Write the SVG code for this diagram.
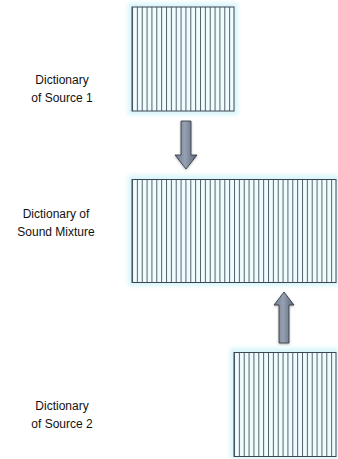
<svg xmlns="http://www.w3.org/2000/svg" width="338" height="459" viewBox="0 0 338 459">
<defs>
<style>
.lbl{font-family:"Liberation Sans",Arial,Helvetica,sans-serif;font-size:12px;fill:#111;text-anchor:middle}
.glow{fill:#d8f5fb}
.ln{stroke:#56616b;stroke-width:1}
.arr{fill:url(#ag);stroke:#2f333a;stroke-width:0.8}
</style>
<linearGradient id="ag" x1="0" y1="0" x2="1" y2="0">
<stop offset="0" stop-color="#6f7a8c"/>
<stop offset="0.45" stop-color="#95a0b2"/>
<stop offset="1" stop-color="#5a6475"/>
</linearGradient>
<filter id="blur" x="-20%" y="-20%" width="140%" height="140%"><feGaussianBlur stdDeviation="2"/></filter>
<filter id="shadow" x="-50%" y="-50%" width="200%" height="200%"><feDropShadow dx="0" dy="1" stdDeviation="1" flood-color="#000" flood-opacity="0.3"/></filter>
<pattern id="lines" x="132" y="0" width="4.857" height="10" patternUnits="userSpaceOnUse">
<rect x="0" y="0" width="4.857" height="10" fill="#effdff"/>
<line x1="0.5" y1="0" x2="0.5" y2="10" class="ln"/>
</pattern>
<pattern id="lines3" x="234" y="0" width="4.857" height="10" patternUnits="userSpaceOnUse">
<rect x="0" y="0" width="4.857" height="10" fill="#effdff"/>
<line x1="0.5" y1="0" x2="0.5" y2="10" class="ln"/>
</pattern>
</defs>
<rect width="338" height="459" fill="#fff"/>
<g id="source1">
<rect class="glow" x="128" y="3" width="110" height="112" filter="url(#blur)"/>
<rect x="132" y="7" width="102" height="104" fill="url(#lines)" stroke="#3c4650"/>
<text class="lbl" x="62" y="84">Dictionary</text>
<text class="lbl" x="62" y="102">of Source 1</text>
</g>
<g id="mixture">
<rect class="glow" x="128" y="175" width="212" height="111" filter="url(#blur)"/>
<rect x="132" y="179.5" width="204" height="103" fill="url(#lines)" stroke="#3c4650"/>
<text class="lbl" x="56" y="218">Dictionary of</text>
<text class="lbl" x="56" y="236">Sound Mixture</text>
</g>
<g id="source2">
<rect class="glow" x="230" y="348" width="108" height="111" filter="url(#blur)"/>
<rect x="234" y="352.5" width="102" height="104" fill="url(#lines3)" stroke="#3c4650"/>
<text class="lbl" x="62" y="410">Dictionary</text>
<text class="lbl" x="62" y="428">of Source 2</text>
</g>
<g id="connectors">
<path class="arr" filter="url(#shadow)" d="M181,121 H191 V155 H197 L186,169 L175,155 H181 Z"/>
<path class="arr" filter="url(#shadow)" d="M279,343 H289 V305 H294 L284,292 L274,305 H279 Z"/>
</g>
</svg>
